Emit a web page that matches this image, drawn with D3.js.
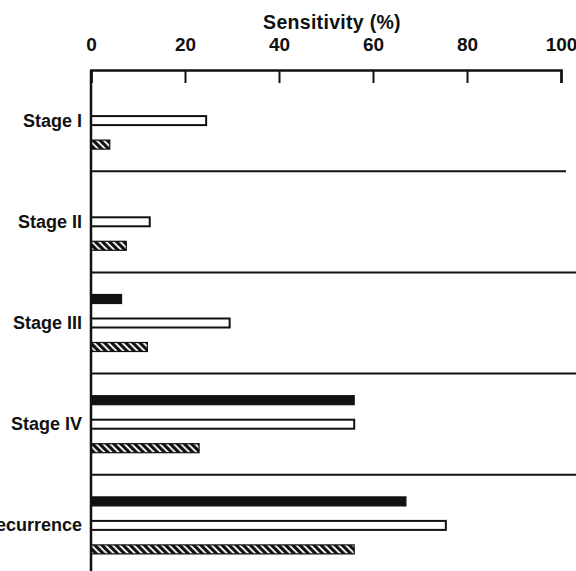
<!DOCTYPE html>
<html>
<head>
<meta charset="utf-8">
<script src="https://cdn.jsdelivr.net/npm/d3@7"></script>
<style>
  body { margin: 0; background: #fff; }
  svg text { font-family: "Liberation Sans", Arial, sans-serif; font-weight: bold; fill: #111; }
</style>
</head>
<body>
<svg id="chart" width="576" height="571"></svg>
<script>
// values (sensitivity, %)
var categories = ["Stage I", "Stage II", "Stage III", "Stage IV", "Recurrence"];
var seriesNames = ["solid", "open", "hatched"];
var solidValues = [null, null, 6.5, 56, 67];
var openValues = [24.5, 12.5, 29.5, 56, 75.5];
var hatchedValues = [4, 7.5, 12, 23, 56];
var xTicks = [0, 20, 40, 60, 80, 100];

var svgWidth = 576;
var svgHeight = 571;
var margin = { top: 70, left: 91, right: 15 };

var svg = d3.select("#chart");

var x = d3.scaleLinear().domain([0, 100]).range([margin.left, 561]);
var y = d3.scaleBand().domain(categories).range([margin.top, svgHeight + 5]);
var inner = d3.scalePoint().domain(seriesNames).range([-24, 24]);

// hatch fill: black with white diagonal stripes
var defs = svg.append("defs");
var pat = defs.append("pattern")
  .attr("id", "hatch")
  .attr("patternUnits", "userSpaceOnUse")
  .attr("width", 10)
  .attr("height", 5)
  .attr("patternTransform", "rotate(45)");
pat.append("rect").attr("width", 10).attr("height", 5).style("fill", "#111");
pat.append("rect").attr("width", 10).attr("height", 1.8).style("fill", "#fff");

// separators between groups
var seps = categories.slice(1);
svg.selectAll(".sep")
  .data(seps)
  .enter()
  .append("line")
  .attr("class", "sep")
  .attr("x1", margin.left)
  .attr("x2", function(d, i) { return i == 0 ? 566 : svgWidth; })
  .attr("y1", function(d) { return y(d); })
  .attr("y2", function(d) { return y(d); })
  .style("stroke", "#111")
  .style("stroke-width", "2px");

var barH = 9;
var series = [
  { name: "solid", values: solidValues, fill: "#111" },
  { name: "open", values: openValues, fill: "#fff" },
  { name: "hatched", values: hatchedValues, fill: "url(#hatch)" }
];

series.forEach(function(s) {
  var rows = categories.map(function(c, i) { return { cat: c, v: s.values[i] }; })
    .filter(function(d) { return d.v != null; });
  svg.selectAll(".bar-" + s.name)
    .data(rows)
    .enter()
    .append("rect")
    .attr("class", "bar-" + s.name)
    .attr("x", x(0))
    .attr("y", function(d) { return y(d.cat) + y.bandwidth() / 2 + inner(s.name) - barH / 2; })
    .attr("width", function(d) { return x(d.v) - x(0); })
    .attr("height", barH)
    .style("fill", s.fill)
    .style("stroke", "#111")
    .style("stroke-width", s.name == "open" ? "2px" : "1.2px");
});

// top axis, ticks pointing down into the plot
var xAxis = d3.axisTop(x)
  .tickValues(xTicks)
  .tickSizeInner(-13)
  .tickSizeOuter(-13)
  .tickPadding(19);
var gx = svg.append("g")
  .attr("transform", "translate(0," + margin.top + ")")
  .call(xAxis);
gx.select(".domain").style("stroke", "#111").style("stroke-width", "2.5px");
gx.selectAll(".tick line").style("stroke", "#111").style("stroke-width", "2px");
gx.selectAll(".tick text")
  .style("font-size", "19px")
  .style("font-family", "'Liberation Sans', Arial, sans-serif")
  .style("font-weight", "bold")
  .style("fill", "#111");

// left axis line
svg.append("line")
  .attr("x1", margin.left)
  .attr("x2", margin.left)
  .attr("y1", margin.top)
  .attr("y2", svgHeight)
  .style("stroke", "#111")
  .style("stroke-width", "2.5px");

// category labels
svg.selectAll(".catLabel")
  .data(categories)
  .enter()
  .append("text")
  .attr("class", "catLabel")
  .attr("x", 82)
  .attr("y", function(d) { return y(d) + y.bandwidth() / 2 + 6; })
  .attr("text-anchor", "end")
  .style("font-size", "18px")
  .text(function(d) { return d; });

// title
svg.append("text")
  .attr("x", 332)
  .attr("y", 29)
  .attr("text-anchor", "middle")
  .style("font-size", "19.5px")
  .style("letter-spacing", "0.3px")
  .text("Sensitivity (%)");
</script>
</body>
</html>
